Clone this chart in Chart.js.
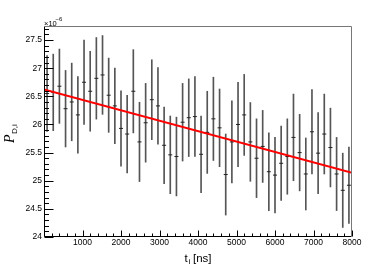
<!DOCTYPE html>
<html>
<head>
<meta charset="utf-8">
<script src="https://cdn.jsdelivr.net/npm/chart.js@4.4.1/dist/chart.umd.min.js"></script>
<style>
html,body{margin:0;padding:0;background:#fff;}
canvas{display:block;}
</style>
</head>
<body>
<canvas id="c" width="384" height="264"></canvas>
<script>
// bin centres t_i [ns]
const tCenters = [80,240,400,560,720,880,1040,1200,1360,1520,
  1680,1840,2000,2160,2320,2480,2640,2800,2960,3120,
  3280,3440,3600,3760,3920,4080,4240,4400,4560,4720,
  4880,5040,5200,5360,5520,5680,5840,6000,6160,6320,
  6480,6640,6800,6960,7120,7280,7440,7600,7760,7920];
// P_D,i values (x10^-6)
const pValues = [26.55,26.57,26.68,26.28,26.40,26.17,26.75,26.59,26.82,26.88,
  26.52,26.33,25.93,25.83,26.59,25.69,26.03,26.44,26.33,25.63,
  25.46,25.43,26.04,26.12,26.14,25.47,25.86,26.10,25.94,25.11,
  25.69,26.00,26.17,25.69,25.40,25.61,25.16,25.10,25.31,25.43,
  25.77,25.50,25.12,25.87,25.49,25.83,25.59,25.12,24.83,24.92];
// errors (x10^-6)
const pErrors = [0.675,0.68,0.66,0.68,0.69,0.68,0.75,0.71,0.725,0.70,
  0.66,0.67,0.67,0.69,0.74,0.705,0.70,0.71,0.68,0.68,
  0.69,0.70,0.69,0.69,0.71,0.68,0.73,0.74,0.69,0.72,
  0.73,0.75,0.72,0.70,0.70,0.64,0.69,0.67,0.66,0.67,
  0.77,0.68,0.64,0.75,0.72,0.71,0.70,0.65,0.66,0.68];
// linear fit endpoints
const fitT = [0, 8000];
const fitP = [26.62, 25.14];
// tick labels
const xTickValues = [1000,2000,3000,4000,5000,6000,7000,8000];
const yTickValues = [24,24.5,25,25.5,26,26.5,27,27.5];

const errTable = tCenters.map((t,i)=>({x:t, y:[pValues[i]-pErrors[i], pValues[i]+pErrors[i]]}));
const ptTable = tCenters.map((t,i)=>({x:t, y:pValues[i]}));
const fitTable = fitT.map((t,i)=>({x:t, y:fitP[i]}));

const FONT = "'Liberation Sans', Arial, Helvetica, sans-serif";

const decor = {
  id:'decor',
  afterDatasetsDraw(chart){
    const {ctx, chartArea:a, scales:{x, y}} = chart;
    ctx.save();
    ctx.strokeStyle = '#000';
    ctx.lineWidth = 1;
    const L = Math.round(a.left)+0.5, R = Math.round(a.right)-0.5;
    const T = Math.round(a.top)+0.5, B = Math.round(a.bottom)-0.5;
    // y ticks (inside)
    ctx.beginPath();
    for (let k=0;k<=37;k++){
      const v = 24 + k*0.1;
      const py = Math.round(y.getPixelForValue(v)) + 0.5;
      const len = (k%5===0) ? 9 : 4.5;
      ctx.moveTo(L, py); ctx.lineTo(L+len, py);
    }
    // x ticks (inside)
    for (let k=0;k<=40;k++){
      const v = k*200;
      const px = Math.round(x.getPixelForValue(v)) + 0.5;
      const len = (k%5===0) ? 6 : 3;
      ctx.moveTo(px, B); ctx.lineTo(px, B-len);
    }
    ctx.stroke();
    // axes
    ctx.beginPath();
    ctx.moveTo(L, T); ctx.lineTo(L, B); ctx.lineTo(R, B);
    ctx.stroke();
    ctx.strokeStyle = '#777';
    ctx.beginPath();
    ctx.moveTo(L, T); ctx.lineTo(R, T); ctx.lineTo(R, B);
    ctx.stroke();

    ctx.fillStyle = '#000';
    // exponent label
    ctx.textBaseline = 'alphabetic';
    ctx.textAlign = 'left';
    ctx.font = '7.5px ' + FONT;
    ctx.fillText('\u00d710', 44, 25.5);
    ctx.font = '6px ' + FONT;
    ctx.fillText('\u22126', 55.5, 21);

    // x title
    ctx.font = '11.5px ' + FONT;
    ctx.fillText('t', 184.5, 261.5);
    ctx.font = '8px ' + FONT;
    ctx.fillText('i', 188.5, 264);
    ctx.font = '11.5px ' + FONT;
    ctx.fillText('[ns]', 193, 261.5);

    // y title (rotated)
    ctx.save();
    ctx.translate(13.5, 143);
    ctx.rotate(-Math.PI/2);
    ctx.font = 'italic 14px "Liberation Serif", "Times New Roman", serif';
    ctx.fillText('P', 0, 0);
    const w = ctx.measureText('P').width;
    ctx.font = '8px ' + FONT;
    ctx.fillText('D,i', w + 0.5, 3);
    ctx.restore();

    ctx.restore();
  }
};

new Chart(document.getElementById('c'), {
  type: 'bar',
  data: {
    datasets: [
      {type:'line', data: fitTable, borderColor:'#ff0000', borderWidth:2, pointRadius:0, tension:0, order:1},
      {type:'scatter', data: ptTable, pointStyle:'line', pointRadius:2, borderColor:'#222', backgroundColor:'#222', borderWidth:1, order:2},
      {type:'bar', data: errTable, barThickness:1, backgroundColor:'#555', borderWidth:0, grouped:false, order:3}
    ]
  },
  options: {
    responsive:false,
    animation:false,
    events:[],
    layout:{padding:{left:0, top:26, right:32, bottom:0}},
    plugins:{legend:{display:false}, tooltip:{enabled:false}},
    scales:{
      x:{
        type:'linear', min:0, max:8000, offset:false,
        grid:{display:false, drawTicks:false},
        border:{display:false},
        ticks:{autoSkip:false, maxRotation:0, padding:1, color:'#000',
          font:{family:FONT, size:8.5},
          callback:(v)=>String(v)},
        afterBuildTicks:(s)=>{ s.ticks = xTickValues.map(v=>({value:v})); },
        afterFit:(s)=>{ s.height = 27; }
      },
      y:{
        type:'linear', min:24, max:27.75,
        grid:{display:false, drawTicks:false},
        border:{display:false},
        ticks:{autoSkip:false, padding:2, color:'#000',
          font:{family:FONT, size:8.5},
          callback:(v)=>String(v)},
        afterBuildTicks:(s)=>{ s.ticks = yTickValues.map(v=>({value:v})); },
        afterFit:(s)=>{ s.width = 44; }
      }
    }
  },
  plugins:[decor]
});
</script>
</body>
</html>
